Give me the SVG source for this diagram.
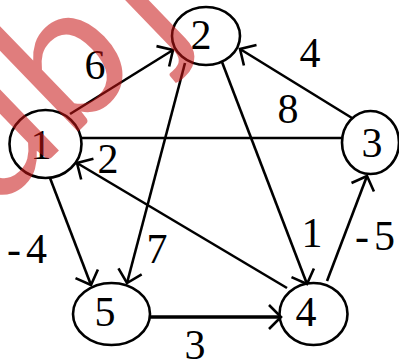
<svg xmlns="http://www.w3.org/2000/svg" width="399" height="362" viewBox="0 0 399 362">
<style>
.node ellipse{fill:none;stroke:#000;stroke-width:2.6}
.lbl{font-family:"Liberation Serif","Times New Roman",serif;font-size:42px;fill:#000;text-anchor:middle}
.wlbl{font-family:"Liberation Serif","Times New Roman",serif;font-size:42px;fill:#000}
.edge{fill:none;stroke:#000;stroke-width:2.6;marker-end:url(#arr)}
.plain{fill:none;stroke:#000;stroke-width:2.6}
.wm{font-family:Lato,"Liberation Sans",Arial,sans-serif;font-weight:400;font-size:190px;fill:#c81414;opacity:0.55}
</style>
<defs>
<marker id="arr" viewBox="-14 -14 16 28" refX="0" refY="0" markerWidth="16" markerHeight="28" markerUnits="userSpaceOnUse" orient="auto" overflow="visible">
<path d="M-12,-12 L0,0 L-12,12" fill="none" stroke="#000" stroke-width="2.6"/>
</marker>
</defs>
<rect width="399" height="362" fill="#fff"/>
<g id="connectors">
<line class="edge" x1="70" y1="114" x2="173" y2="50"/>
<line class="edge" x1="185" y1="63" x2="127" y2="283"/>
<line class="edge" x1="50" y1="178" x2="91" y2="285"/>
<line class="edge" x1="287" y1="288" x2="77" y2="163"/>
<line class="plain" x1="81" y1="138" x2="343" y2="138"/>
<line class="edge" x1="352" y1="118" x2="240" y2="49"/>
<line class="edge" x1="222" y1="62" x2="307" y2="284"/>
<line class="edge" x1="327" y1="281" x2="367" y2="176"/>
<line class="edge" x1="150" y1="317" x2="281" y2="317" style="stroke-width:3.6"/>
</g>
<g id="edge-labels">
<text class="lbl" x="95" y="79">6</text>
<text class="lbl" x="310" y="67">4</text>
<text class="lbl" x="288" y="123">8</text>
<text class="lbl" x="108" y="173">2</text>
<text class="wlbl" x="7" y="263" letter-spacing="5">-4</text>
<text class="lbl" x="157" y="263">7</text>
<text class="lbl" x="312" y="247">1</text>
<text class="wlbl" x="355" y="250" letter-spacing="5">-5</text>
<text class="lbl" x="195" y="359">3</text>
</g>
<g id="node1" class="node"><ellipse cx="45.5" cy="144" rx="36" ry="34"/><text class="lbl" x="41" y="159">1</text></g>
<g id="node2" class="node"><ellipse cx="206" cy="36" rx="34" ry="29"/><text class="lbl" x="201" y="49">2</text></g>
<g id="node3" class="node"><ellipse cx="370.5" cy="142.5" rx="28.5" ry="31.5"/><text class="lbl" x="372" y="157">3</text></g>
<g id="node4" class="node"><ellipse cx="313.5" cy="314" rx="34" ry="31"/><text class="lbl" x="306" y="326">4</text></g>
<g id="node5" class="node"><ellipse cx="111.5" cy="314" rx="38.5" ry="31"/><text class="lbl" x="105" y="326">5</text></g>
<g id="watermark">
<text class="wm" transform="translate(-8,215) rotate(-44)">db<tspan dx="18">j</tspan></text>
</g>
</svg>
